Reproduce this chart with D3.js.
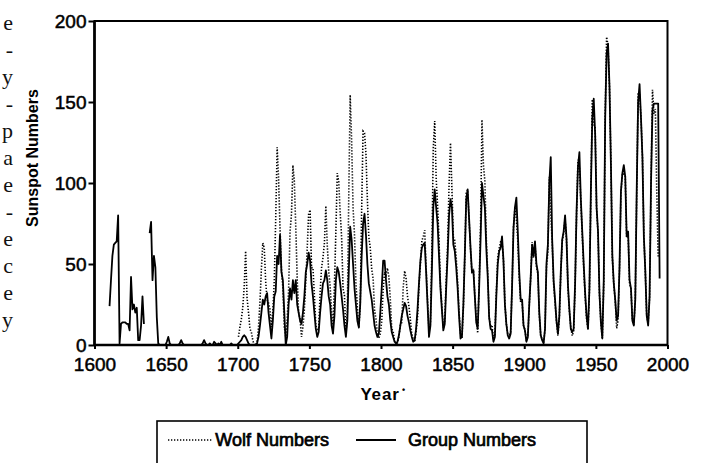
<!DOCTYPE html>
<html><head><meta charset="utf-8">
<script src="https://cdn.jsdelivr.net/npm/d3@7"></script>
<style>body{margin:0;background:#fff;} svg{display:block;}</style>
</head><body><svg id="c" width="707" height="463"></svg>
<script>
// ---------- data ----------
const wolfStart = 1700;
const wolfValues = [
 5,11,16,23,36,58,29,20,10,8, 3,0,0,2,11,27,47,63,60,39,
 28,26,22,11,21,40,78,122,103,73, 47,35,11,5,16,34,70,81,111,101,
 73,40,20,16,5,11,22,40,60,80.9, 83.4,47.7,47.8,30.7,12.2,9.6,10.2,32.4,47.6,54.0,
 62.9,85.9,61.2,45.1,36.4,20.9,11.4,37.8,69.8,106.1, 100.8,81.6,66.5,34.8,30.6,7.0,19.8,92.5,154.4,125.9,
 84.8,68.1,38.5,22.8,10.2,24.1,82.9,132.0,130.9,118.1, 89.9,66.6,60.0,46.9,41.0,21.3,16.0,6.4,4.1,6.8,
 14.5,34.0,45.0,43.1,47.5,42.2,28.1,10.1,8.1,2.5, 0.0,1.4,5.0,12.2,13.9,35.4,45.8,41.1,30.1,23.9,
 15.6,6.6,4.0,1.8,8.5,16.6,36.3,49.6,64.2,67.0, 70.9,47.8,27.5,8.5,13.2,56.9,121.5,138.3,103.2,85.7,
 64.6,36.7,24.2,10.7,15.0,40.1,61.5,98.5,124.7,96.3, 66.6,64.5,54.1,39.0,20.6,6.7,4.3,22.7,54.8,93.8,
 95.8,77.2,59.1,44.0,47.0,30.5,16.3,7.3,37.6,74.0, 139.0,111.2,101.6,66.2,44.7,17.0,11.3,12.4,3.4,6.0,
 32.3,54.3,59.7,63.7,63.5,52.2,25.4,13.1,6.8,6.3, 7.1,35.6,73.0,85.1,78.0,64.0,41.8,26.2,26.7,12.1,
 9.5,2.7,5.0,24.4,42.0,63.5,53.8,62.0,48.5,43.9, 18.6,5.7,3.6,1.4,9.6,47.4,57.1,103.9,80.6,63.6,
 37.6,26.1,14.2,5.8,16.7,44.3,63.9,69.0,77.8,64.9, 35.7,21.2,11.1,5.7,8.7,36.1,79.7,114.4,109.6,88.8,
 67.8,47.5,30.6,16.3,9.6,33.2,92.6,151.6,136.3,134.7, 83.9,69.4,31.5,13.9,4.4,38.0,141.7,190.2,184.8,159.0,
 112.3,53.9,37.6,27.9,10.2,15.1,47.0,93.8,105.9,105.5, 104.5,66.6,68.9,38.0,34.5,15.5,12.6,27.5,92.5,155.4,
 154.6,140.4,115.9,66.6,45.9,17.9,13.4,29.4,100.2,157.6, 142.6,145.7,94.3,54.6
];
const groupStart = 1610;
const groupValues = [
 24,40,55,62,63,64,80,1,13,14, 14,14,13,13,9,42,22,25,20,23,
 3,3,12,30,13,null,null,null,69,76, 40,55,48,17,1,0,0,0,0,0,
 2,5,1,0,0,0,0,0,0,1, 3,1,0,0,0,0,0,0,0,0,
 0,0,0,0,0,1,3,1,0,0, 1,0,0,2,1,0,1,0,2,0,
 0,0,0,0,0,1,0,0,0,0, 1,2,3,5,6,5,3,1,0,0,
 0,0,0,1,5,12,20,28,25,30, 32,20,12,4,15,30,33,55,50,68,
 45,40,20,0,5,25,35,28,40,32, 40,25,20,15,13,20,30,45,50,57,
 52,38,30,20,10,5,8,20,30,38, 40,46,40,30,25,12,7,18,40,48,
 45,38,30,22,12,5,15,45,73,65, 50,35,25,15,11,25,55,75,81,68,
 50,38,33,28,20,12,8,5,7,20, 35,52,52,40,30,25,15,8,5,2,
 1,2,6,12,18,22,26,24,18,14, 9,5,2,3,10,22,38,52,60,62,
 63,45,25,5,12,45,85,96,85,75, 55,35,22,9,13,35,55,80,90,85,
 62,58,48,35,18,4,5,25,55,90, 96,78,60,45,46,30,14,10,35,65,
 100,92,85,60,42,17,10,9,2,5, 30,50,58,60,67,52,25,13,6,4,
 7,36,72,85,91,70,45,28,28,12, 9,2,5,25,42,62,55,64,50,45,
 20,6,3,1,10,50,62,100,116,65, 40,28,15,7,18,45,65,70,80,66,
 37,22,10,8,10,38,82,110,119,90, 70,50,32,18,10,35,95,140,152,130,
 85,70,32,14,4,40,140,180,186,160, 112,55,38,28,15,18,48,95,106,111,
 104,67,70,40,35,15,12,28,95,150, 161,140,116,67,46,18,12,30,100,145,
 149,149,149,149,41
];
const xTicks = [1600,1650,1700,1750,1800,1850,1900,1950,2000];
const yTicks = [0,50,100,150,200];
const legendLabels = ["Wolf Numbers", "Group Numbers"];
const xTitle = "Year";
const yTitle = "Sunspot Numbers";
const marginGlyphs = ["e","-","y","-","p","a","e","-","e","c","e","y"];

// ---------- drawing ----------
const svg = d3.select("#c");
const font = "'Liberation Sans', Arial, Helvetica, sans-serif";
const x = d3.scaleLinear().domain([1600, 2000]).range([94.5, 667.5]);
const y = d3.scaleLinear().domain([0, 200]).range([345, 21]);

// fragments of neighbouring page text at the left edge
svg.append("g").selectAll("text").data(marginGlyphs).join("text")
  .attr("x", 13).attr("y", (d, i) => 30 + i * 27)
  .attr("text-anchor", "end")
  .attr("font-family", "'Liberation Serif', 'DejaVu Serif', serif")
  .attr("font-size", 22).attr("fill", "#111")
  .text(d => d);

const wolf = wolfValues.map((v, i) => ({ year: wolfStart + i, v }));
const group = groupValues.map((v, i) => ({ year: groupStart + i, v }));

const line = d3.line()
  .defined(d => d.v !== null)
  .x(d => x(d.year + 0.5))
  .y(d => y(d.v));

svg.append("path").datum(wolf)
  .attr("d", line).attr("fill", "none")
  .attr("stroke", "#000").attr("stroke-width", 1.6)
  .attr("stroke-dasharray", "1.3,1.7");

svg.append("path").datum(group)
  .attr("d", line).attr("fill", "none")
  .attr("stroke", "#000").attr("stroke-width", 1.8)
  .attr("stroke-linejoin", "round");

// frame
svg.append("rect")
  .attr("x", x(1600)).attr("y", y(200))
  .attr("width", x(2000) - x(1600)).attr("height", y(0) - y(200))
  .attr("fill", "none").attr("stroke", "#000").attr("stroke-width", 2);
svg.append("line").attr("x1", x(1600)).attr("x2", x(1600))
  .attr("y1", y(200)).attr("y2", y(0)).attr("stroke", "#000").attr("stroke-width", 2.6);
svg.append("line").attr("x1", x(1600)).attr("x2", x(2000))
  .attr("y1", y(0)).attr("y2", y(0)).attr("stroke", "#000").attr("stroke-width", 2.6);

// axes
const yAxis = svg.append("g").attr("transform", `translate(${x(1600)},0)`)
  .call(d3.axisLeft(y).tickValues(yTicks).tickFormat(d3.format("d")).tickSize(6).tickPadding(2));
const xAxis = svg.append("g").attr("transform", `translate(0,${y(0)})`)
  .call(d3.axisBottom(x).tickValues(xTicks).tickFormat(d3.format("d")).tickSize(4).tickPadding(9));
[yAxis, xAxis].forEach(g => {
  g.select(".domain").remove();
  g.selectAll(".tick line").attr("stroke", "#000").attr("stroke-width", 2);
  g.selectAll(".tick text").attr("font-family", font).attr("font-size", 19)
    .attr("fill", "#000").attr("stroke", "#000").attr("stroke-width", 0.5);
});

// axis titles
svg.append("text")
  .attr("transform", "translate(38,158) rotate(-90)")
  .attr("text-anchor", "middle").attr("font-family", font)
  .attr("font-size", 16).attr("font-weight", "bold").text(yTitle);
svg.append("text")
  .attr("x", 380).attr("y", 400).attr("text-anchor", "middle")
  .attr("font-family", font).attr("font-size", 17).attr("font-weight", "bold")
  .attr("letter-spacing", 0.8).text(xTitle);
svg.append("text")
  .attr("x", 402).attr("y", 393).attr("font-family", font)
  .attr("font-size", 9).attr("font-weight", "bold").text("•");

// legend
const lg = svg.append("g");
lg.append("rect").attr("x", 157).attr("y", 421).attr("width", 430).attr("height", 60)
  .attr("fill", "none").attr("stroke", "#000").attr("stroke-width", 1.6);
lg.append("line").attr("x1", 168).attr("x2", 213).attr("y1", 440).attr("y2", 440)
  .attr("stroke", "#000").attr("stroke-width", 1.6).attr("stroke-dasharray", "1.3,1.7");
lg.append("text").attr("x", 329).attr("y", 446).attr("text-anchor", "end")
  .attr("font-family", font).attr("font-size", 18).attr("stroke", "#000").attr("stroke-width", 0.7)
  .text(legendLabels[0]);
lg.append("line").attr("x1", 356).attr("x2", 396).attr("y1", 440).attr("y2", 440)
  .attr("stroke", "#000").attr("stroke-width", 1.8);
lg.append("text").attr("x", 408).attr("y", 446)
  .attr("font-family", font).attr("font-size", 18).attr("stroke", "#000").attr("stroke-width", 0.7)
  .text(legendLabels[1]);
</script>
</body></html>
